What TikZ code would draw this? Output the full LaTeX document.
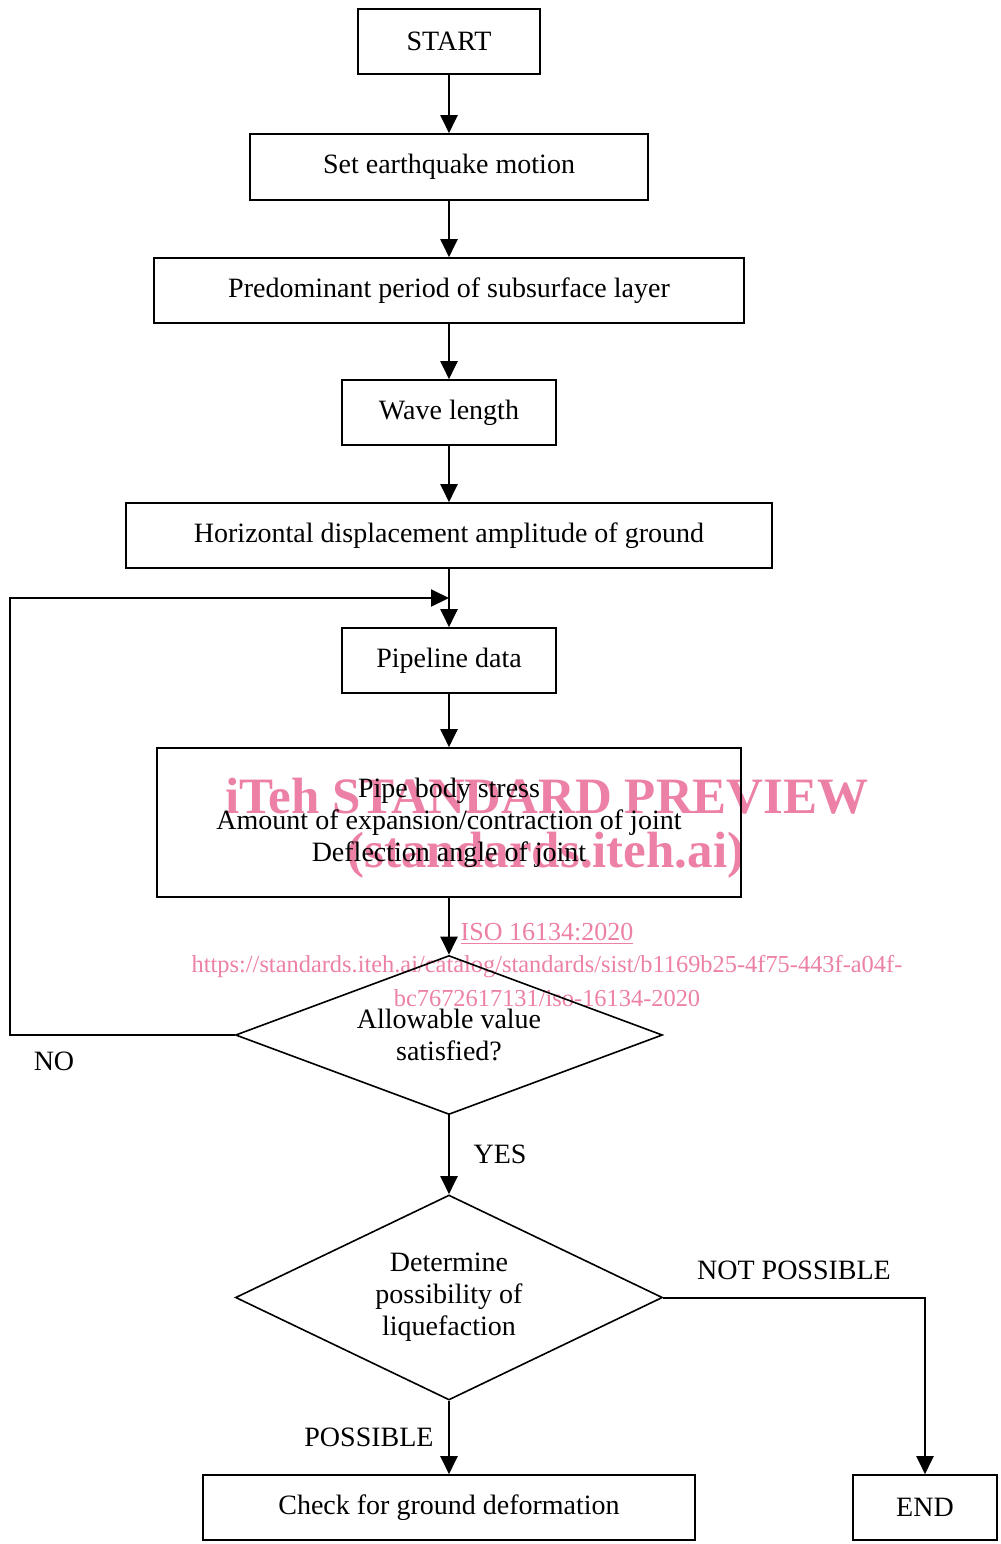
\documentclass[tikz,border=0pt]{standalone}
\usepackage{fontspec}
\setmainfont{Liberation Serif}
\usepackage{tikz}
\usetikzlibrary{shapes.geometric,arrows.meta,positioning}
\definecolor{wmpink}{RGB}{236,128,166}
\tikzset{%
  stepbox/.style={draw, line width=0.8pt, inner sep=0pt, font=\fontsize{14}{16}\selectfont, align=center},
  decision/.style={diamond, draw, line width=0.8pt, inner sep=0pt, font=\fontsize{14}{16}\selectfont, align=center},
  flow/.style={line width=1pt, -{Triangle[length=9pt,width=8.5pt]}},
  branch/.style={font=\fontsize{14}{16}\selectfont},
  mark text/.style={text=wmpink, inner sep=0pt}
}
\begin{document}
\begin{tikzpicture}[x=0.5pt, y=-0.5pt]
    \useasboundingbox (0,0) rectangle (1001,1544);
    % watermark
    \node[mark text, font=\fontsize{25.5}{28}\selectfont\bfseries] (wm1) at (547, 796) {iTeh STANDARD PREVIEW};
    \node[mark text, font=\fontsize{25.5}{28}\selectfont\bfseries] (wm2) at (546, 855) {(standards.iteh.ai)};
    \node[mark text, font=\fontsize{13}{15}\selectfont] (wm3) at (547, 934) {\underline{ISO 16134:2020}};
    \node[mark text, font=\fontsize{12.2}{15}\selectfont] (wm4) at (547, 967) {https://standards.iteh.ai/catalog/standards/sist/b1169b25-4f75-443f-a04f-};
    \node[mark text, font=\fontsize{12.2}{15}\selectfont] (wm5) at (547, 998) {bc7672617131/iso-16134-2020};

    % boxes
    \node[stepbox, minimum width=91pt, minimum height=32.5pt] (start) at (449, 41.5) {START};
    \node[stepbox, minimum width=199pt, minimum height=33pt] (motion) at (449, 167) {Set earthquake motion};
    \node[stepbox, minimum width=295pt, minimum height=32.5pt] (period) at (449, 290.5) {Predominant period of subsurface layer};
    \node[stepbox, minimum width=107pt, minimum height=32.5pt] (wave) at (449, 412.5) {Wave length};
    \node[stepbox, minimum width=323pt, minimum height=32.5pt] (hdisp) at (449, 535.5) {Horizontal displacement amplitude of ground};
    \node[stepbox, minimum width=107pt, minimum height=32.5pt] (pipe) at (449, 660.5) {Pipeline data};
    \node[stepbox, minimum width=292pt, minimum height=74.5pt] (stress) at (449, 822.5) {Pipe body stress\\Amount of expansion/contraction of joint\\Deflection angle of joint};
    \node[decision, shape aspect=2.69, minimum width=213.5pt, minimum height=79.5pt] (allow) at (449, 1035) {Allowable value\\satisfied?};
    \node[decision, shape aspect=2.08, minimum width=213.5pt, minimum height=102.5pt] (liquef) at (449, 1297.5) {Determine\\possibility of\\liquefaction};
    \node[stepbox, minimum width=246pt, minimum height=32.5pt] (check) at (449, 1507.5) {Check for ground deformation};
    \node[stepbox, minimum width=72pt, minimum height=32.5pt] (end) at (925, 1507.5) {END};

    % branch labels
    \node[branch] (no) at (54, 1061) {NO};
    \node[branch] (yes) at (500, 1154) {YES};
    \node[branch] (notposs) at (794, 1270) {NOT POSSIBLE};
    \node[branch] (poss) at (369, 1437) {POSSIBLE};

    % connectors
    \coordinate (merge) at (449, 598);
    \coordinate (loopcorner) at (10, 1035);
    \draw[flow] (start) -- (motion);
    \draw[flow] (motion) -- (period);
    \draw[flow] (period) -- (wave);
    \draw[flow] (wave) -- (hdisp);
    \draw[flow] (hdisp) -- (pipe);
    \draw[flow] (pipe) -- (stress);
    \draw[flow] (stress) -- (allow);
    \draw[flow] (allow.west) -- (loopcorner) |- (merge);
    \draw[flow] (allow) -- (liquef);
    \draw[flow] (liquef) -- (check);
    \draw[flow] (liquef.east) -| (end.north);
\end{tikzpicture}
\end{document}
